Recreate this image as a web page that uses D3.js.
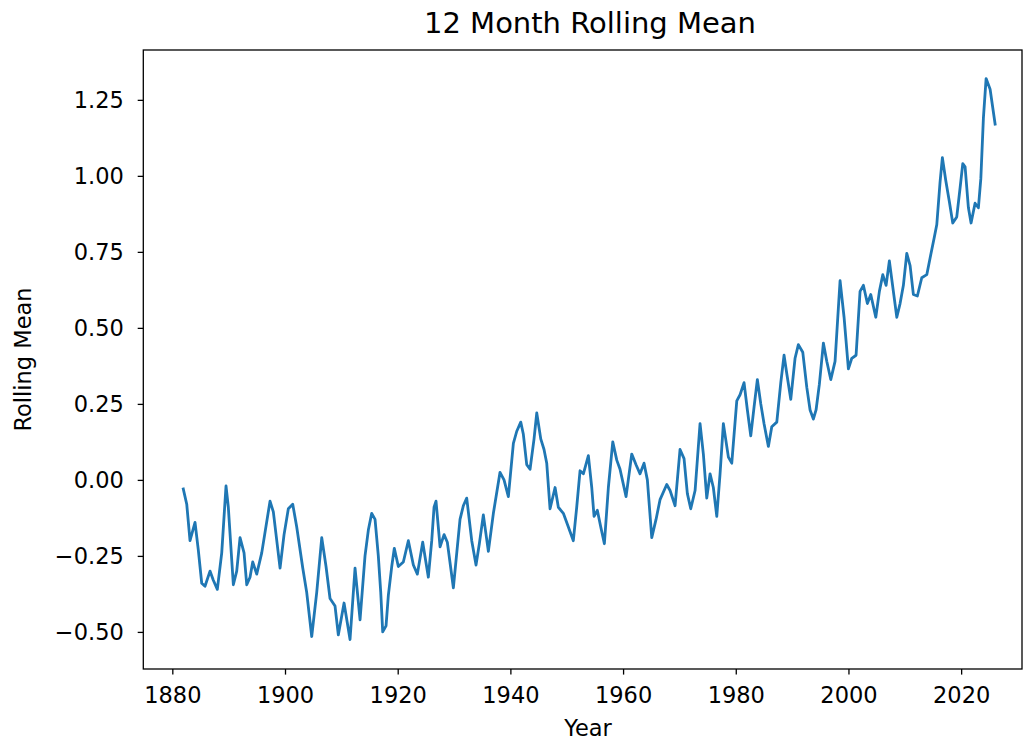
<!DOCTYPE html>
<html>
<head>
<meta charset="utf-8">
<script src="https://cdn.jsdelivr.net/npm/d3@7"></script>
<style>
  body { margin: 0; background: #fff; }
  text { font-family: "DejaVu Sans", sans-serif; fill: #000; }
</style>
</head>
<body>
<div id="viz"></div>
<script>
// data: fractional year and 12 month rolling mean
var years = [
  1881.95, 1882.56, 1883.14, 1884.03, 1884.61, 1885.22, 1885.80, 1886.69, 1887.28, 1887.99,
  1888.77, 1889.53, 1889.94, 1890.83, 1891.43, 1892.02, 1892.73, 1893.21, 1893.79, 1894.27,
  1894.98, 1895.87, 1897.34, 1897.93, 1899.12, 1899.83, 1900.59, 1901.37, 1902.08, 1903.15,
  1903.85, 1904.74, 1905.63, 1906.52, 1907.28, 1907.99, 1908.88, 1909.46, 1910.48, 1911.54,
  1912.43, 1913.32, 1914.20, 1914.79, 1915.39, 1915.98, 1916.56, 1916.99, 1917.34, 1917.93,
  1918.34, 1918.94, 1919.40, 1920.11, 1921.00, 1921.89, 1922.78, 1923.49, 1924.44, 1925.44,
  1926.04, 1926.45, 1926.80, 1927.52, 1928.23, 1928.81, 1929.88, 1931.06, 1931.65, 1932.25,
  1933.14, 1933.90, 1934.49, 1935.20, 1936.09, 1936.98, 1938.16, 1938.87, 1939.64, 1940.53,
  1941.13, 1941.84, 1942.30, 1942.90, 1943.49, 1944.20, 1944.68, 1945.39, 1945.97, 1946.45,
  1947.04, 1947.93, 1948.51, 1949.40, 1950.29, 1951.17, 1951.77, 1952.36, 1952.95, 1953.84,
  1954.44, 1954.85, 1955.43, 1956.04, 1956.68, 1957.39, 1958.17, 1958.88, 1959.46, 1960.53,
  1961.54, 1962.30, 1963.01, 1963.72, 1964.31, 1965.09, 1965.85, 1966.56, 1967.75, 1968.34,
  1969.23, 1970.11, 1970.82, 1971.41, 1972.01, 1972.78, 1973.66, 1974.25, 1974.85, 1975.44,
  1976.02, 1976.63, 1977.21, 1977.80, 1978.69, 1979.29, 1980.18, 1980.76, 1981.47, 1982.06,
  1982.66, 1983.25, 1983.83, 1984.44, 1985.02, 1985.79, 1986.39, 1987.28, 1987.99, 1988.57,
  1989.05, 1989.76, 1990.52, 1991.11, 1991.89, 1992.60, 1993.19, 1993.77, 1994.25, 1994.84,
  1995.55, 1996.15, 1996.86, 1997.62, 1998.51, 1999.22, 1999.99, 2000.59, 2001.35, 2002.06,
  2002.65, 2003.36, 2003.96, 2004.85, 2005.49, 2006.09, 2006.68, 2007.26, 2007.97, 2008.58,
  2009.16, 2009.75, 2010.35, 2010.94, 2011.52, 2012.23, 2013.01, 2013.90, 2014.49, 2015.20,
  2015.68, 2016.26, 2016.67, 2017.27, 2017.91, 2018.51, 2019.22, 2019.81, 2020.29, 2020.70,
  2021.29, 2021.76, 2022.47, 2023.06, 2023.49, 2023.95, 2024.43, 2025.14, 2026.03
];
var rollingMean = [
  -0.03, -0.08, -0.20, -0.14, -0.23, -0.34, -0.35, -0.30, -0.33, -0.36,
  -0.24, -0.02, -0.09, -0.345, -0.30, -0.19, -0.24, -0.345, -0.32, -0.27,
  -0.31, -0.24, -0.07, -0.105, -0.29, -0.18, -0.095, -0.08, -0.155, -0.29,
  -0.37, -0.515, -0.37, -0.19, -0.285, -0.39, -0.415, -0.51, -0.405, -0.525,
  -0.29, -0.46, -0.25, -0.165, -0.11, -0.13, -0.25, -0.37, -0.50, -0.48,
  -0.38, -0.285, -0.225, -0.285, -0.27, -0.20, -0.28, -0.31, -0.205, -0.32,
  -0.20, -0.09, -0.07, -0.22, -0.18, -0.205, -0.355, -0.13, -0.085, -0.06,
  -0.20, -0.28, -0.21, -0.115, -0.235, -0.11, 0.025, 0.0, -0.055, 0.12,
  0.16, 0.19, 0.15, 0.05, 0.035, 0.135, 0.22, 0.135, 0.10, 0.055,
  -0.095, -0.025, -0.09, -0.11, -0.155, -0.20, -0.09, 0.03, 0.02, 0.08,
  -0.025, -0.12, -0.10, -0.155, -0.21, -0.025, 0.125, 0.065, 0.035, -0.055,
  0.085, 0.05, 0.02, 0.055, 0.0, -0.19, -0.13, -0.065, -0.015, -0.035,
  -0.085, 0.10, 0.07, -0.045, -0.095, -0.035, 0.185, 0.085, -0.06, 0.02,
  -0.025, -0.12, 0.02, 0.185, 0.075, 0.055, 0.26, 0.28, 0.32, 0.23,
  0.145, 0.24, 0.33, 0.25, 0.185, 0.11, 0.175, 0.19, 0.32, 0.41,
  0.35, 0.265, 0.40, 0.445, 0.42, 0.305, 0.23, 0.20, 0.23, 0.315,
  0.45, 0.39, 0.33, 0.39, 0.655, 0.535, 0.365, 0.40, 0.41, 0.62,
  0.64, 0.58, 0.61, 0.535, 0.62, 0.675, 0.64, 0.72, 0.62, 0.535,
  0.58, 0.64, 0.745, 0.705, 0.61, 0.605, 0.665, 0.675, 0.73, 0.795,
  0.84, 0.98, 1.06, 0.985, 0.915, 0.845, 0.865, 0.96, 1.04, 1.03,
  0.895, 0.845, 0.91, 0.895, 0.99, 1.19, 1.32, 1.285, 1.17
];
var xTicks = [1880, 1900, 1920, 1940, 1960, 1980, 2000, 2020];
var yTicks = [-0.5, -0.25, 0.0, 0.25, 0.5, 0.75, 1.0, 1.25];

var series = years.map(function (d, i) { return { Year: d, Mean: rollingMean[i] }; });

// set the dimensions and margins of the graph
var margin = { top: 50, right: 2, bottom: 71, left: 143.3 },
    width = 1024 - margin.left - margin.right,
    height = 740 - margin.top - margin.bottom;

var svg = d3.select("#viz")
    .append("svg")
    .attr("width", 1024)
    .attr("height", 740)
    .style("display", "block");

svg.append("rect").attr("width", 1024).attr("height", 740).attr("fill", "#fff");

var g = svg.append("g")
    .attr("transform", "translate(" + margin.left + "," + margin.top + ")");

// scales
var x = d3.scaleLinear()
    .domain([1874.85, 2030.8])
    .range([0, width]);

var y = d3.scaleLinear()
    .domain([-0.622, 1.414])
    .range([height, 0]);

// the line
g.append("path")
    .datum(series)
    .attr("fill", "none")
    .attr("stroke", "#1f77b4")
    .attr("stroke-width", 2.8)
    .attr("stroke-linejoin", "round")
    .attr("stroke-linecap", "square")
    .attr("d", d3.line()
        .x(function (d) { return x(d.Year); })
        .y(function (d) { return y(d.Mean); }));

// X axis
var xAxis = g.append("g")
    .attr("transform", "translate(0," + height + ")")
    .call(d3.axisBottom(x).tickValues(xTicks).tickFormat(d3.format("d")).tickSize(5.6).tickSizeOuter(0));
xAxis.select(".domain").remove();
xAxis.selectAll("line").attr("stroke", "#000").attr("stroke-width", 1.3);
xAxis.selectAll("text")
    .attr("y", 34)
    .attr("dy", 0)
    .style("font-size", "22.5px")
    .style("font-family", "DejaVu Sans");

// Y axis
var yAxis = g.append("g")
    .call(d3.axisLeft(y).tickValues(yTicks).tickFormat(d3.format(".2f")).tickSize(5.6).tickSizeOuter(0));
yAxis.select(".domain").remove();
yAxis.selectAll("line").attr("stroke", "#000").attr("stroke-width", 1.3);
yAxis.selectAll("text")
    .attr("x", -19.5)
    .attr("dy", "0.35em")
    .style("font-size", "22.5px")
    .style("font-family", "DejaVu Sans");

// frame
g.append("rect")
    .attr("width", width)
    .attr("height", height)
    .attr("fill", "none")
    .attr("stroke", "#000")
    .attr("stroke-width", 1.3);

// title and axis labels
svg.append("text")
    .attr("text-anchor", "middle")
    .attr("x", 590)
    .attr("y", 33)
    .style("font-size", "29px")
    .text("12 Month Rolling Mean");

svg.append("text")
    .attr("text-anchor", "middle")
    .attr("x", 588)
    .attr("y", 736)
    .style("font-size", "22.5px")
    .text("Year");

svg.append("text")
    .attr("text-anchor", "middle")
    .attr("transform", "translate(31," + (margin.top + height / 2) + ") rotate(-90)")
    .style("font-size", "22.5px")
    .text("Rolling Mean");
</script>
</body>
</html>
